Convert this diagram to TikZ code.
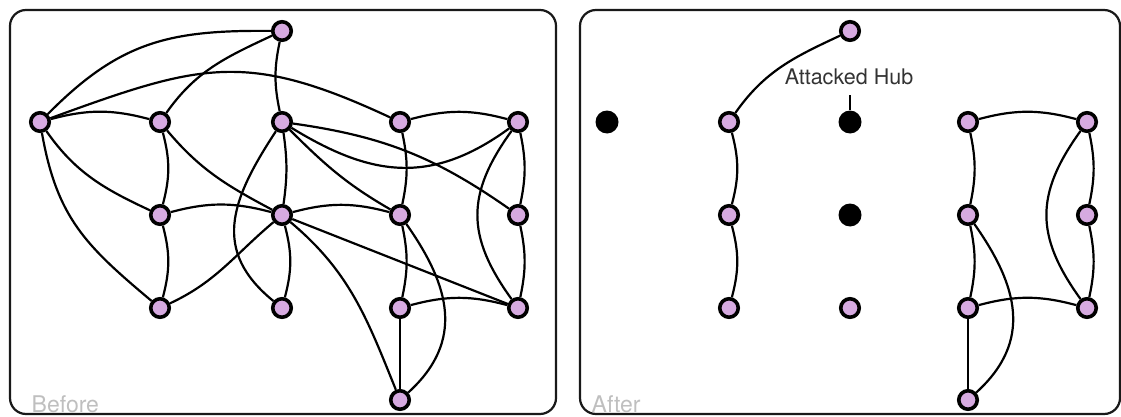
\documentclass[tikz,border=0pt]{standalone}
\usepackage{fontspec}
\setmainfont{TeX Gyre Heros}
\usetikzlibrary{backgrounds}
\definecolor{nodefill}{RGB}{214,170,224}
\begin{document}
\begin{tikzpicture}[x=1pt,y=1pt,
  nd/.style={circle,draw=black,line width=3.6pt,fill=nodefill,minimum size=18.5pt,inner sep=0pt},
  hub/.style={circle,fill=black,minimum size=23pt,inner sep=0pt},
  edge/.style={line width=2.2pt,black},
  panel/.style={line width=2.2pt,rounded corners=16pt,draw=black!90},
  tag/.style={text=black!25,font=\fontsize{23}{23}\selectfont,anchor=base west,inner sep=0pt},
  hublabel/.style={text=black!80,font=\fontsize{21.5}{21.5}\selectfont,anchor=base,inner sep=0pt}]
\useasboundingbox (0,0) rectangle (1121,416);
% panels
\draw[panel] (10,2) rectangle (556,406);
\draw[panel] (580,2) rectangle (1120,406);
\node[tag] (before) at (31.5,4) {Before};
\node[tag] (after) at (591.5,4) {After};
% left nodes
\node[nd] (lT) at (282,385) {};
\node[nd] (lA) at (40,294) {};
\node[nd] (lB) at (160,294) {};
\node[nd] (lC) at (282,294) {};
\node[nd] (lD) at (400,294) {};
\node[nd] (lE) at (518,294) {};
\node[nd] (lF) at (160,201) {};
\node[nd] (lG) at (282,201) {};
\node[nd] (lH) at (400,201) {};
\node[nd] (lI) at (518,201) {};
\node[nd] (lJ) at (160,108) {};
\node[nd] (lK) at (282,108) {};
\node[nd] (lL) at (400,108) {};
\node[nd] (lM) at (518,108) {};
\node[nd] (lN) at (400,16) {};
% right nodes
\node[nd] (rT) at (850,385) {};
\node[hub] (rA) at (607,294) {};
\node[nd] (rB) at (729,294) {};
\node[hub] (rC) at (850,294) {};
\node[nd] (rD) at (968,294) {};
\node[nd] (rE) at (1087,294) {};
\node[nd] (rF) at (729,201) {};
\node[hub] (rG) at (850,201) {};
\node[nd] (rH) at (968,201) {};
\node[nd] (rI) at (1087,201) {};
\node[nd] (rJ) at (729,108) {};
\node[nd] (rK) at (850,108) {};
\node[nd] (rL) at (968,108) {};
\node[nd] (rM) at (1087,108) {};
\node[nd] (rN) at (968,16) {};
% label
\node[hublabel] (lbl) at (849,331) {Attacked Hub};
\coordinate (tick) at (850,321);
\draw[line width=1.8pt] (tick) -- (rC);
\begin{scope}[on background layer]
% left edges
\draw[edge] (lA) .. controls (120,375) and (170,386) .. (lT);
\draw[edge] (lA) to[out=20,in=155,looseness=1.2] (lD);
\draw[edge] (lA) to[bend left=15] (lB);
\draw[edge] (lB) to[out=55,in=205] (lT);
\draw[edge] (lA) to[out=-55,in=155] (lF);
\draw[edge] (lA) to[out=-80,in=140,looseness=1.1] (lJ);
\draw[edge] (lB) to[bend left=15] (lF);
\draw[edge] (lF) to[bend left=15] (lJ);
\draw[edge] (lB) to[out=-50,in=152] (lG);
\draw[edge] (lT) to[bend right=12] (lC);
\draw[edge] (lC) .. controls (230,215) and (212,165) .. (lK);
\draw[edge] (lC) to[bend left=8] (lG);
\draw[edge] (lG) to[bend left=15] (lK);
\draw[edge] (lF) to[bend left=15] (lG);
\draw[edge] (lJ) to[out=25,in=220] (lG);
\draw[edge] (lC) to[out=-8,in=145] (lI);
\draw[edge] (lC) to[out=-45,in=150] (lH);
\draw[edge] (lC) .. controls (370,240) and (430,230) .. (lE);
\draw[edge] (lD) to[bend left=15] (lE);
\draw[edge] (lD) to[bend left=12] (lH);
\draw[edge] (lE) to[bend left=12] (lI);
\draw[edge] (lE) .. controls (466,222) and (466,180) .. (lM);
\draw[edge] (lG) to[bend left=15] (lH);
\draw[edge] (lG) -- (lM);
\draw[edge] (lG) to[out=-40,in=112] (lN);
\draw[edge] (lH) .. controls (450,130) and (465,75) .. (lN);
\draw[edge] (lH) to[bend left=12] (lL);
\draw[edge] (lL) -- (lN);
\draw[edge] (lL) to[bend left=15] (lM);
\draw[edge] (lI) to[bend left=12] (lM);
% right edges
\draw[edge] (rB) to[out=55,in=205] (rT);
\draw[edge] (rB) to[bend left=15] (rF);
\draw[edge] (rF) to[bend left=15] (rJ);
\draw[edge] (rD) to[bend left=15] (rE);
\draw[edge] (rD) to[bend left=12] (rH);
\draw[edge] (rE) to[bend left=12] (rI);
\draw[edge] (rE) .. controls (1035,222) and (1035,180) .. (rM);
\draw[edge] (rH) .. controls (1018,130) and (1033,75) .. (rN);
\draw[edge] (rH) to[bend left=12] (rL);
\draw[edge] (rL) -- (rN);
\draw[edge] (rL) to[bend left=15] (rM);
\draw[edge] (rI) to[bend left=12] (rM);
\end{scope}
\end{tikzpicture}
\end{document}
